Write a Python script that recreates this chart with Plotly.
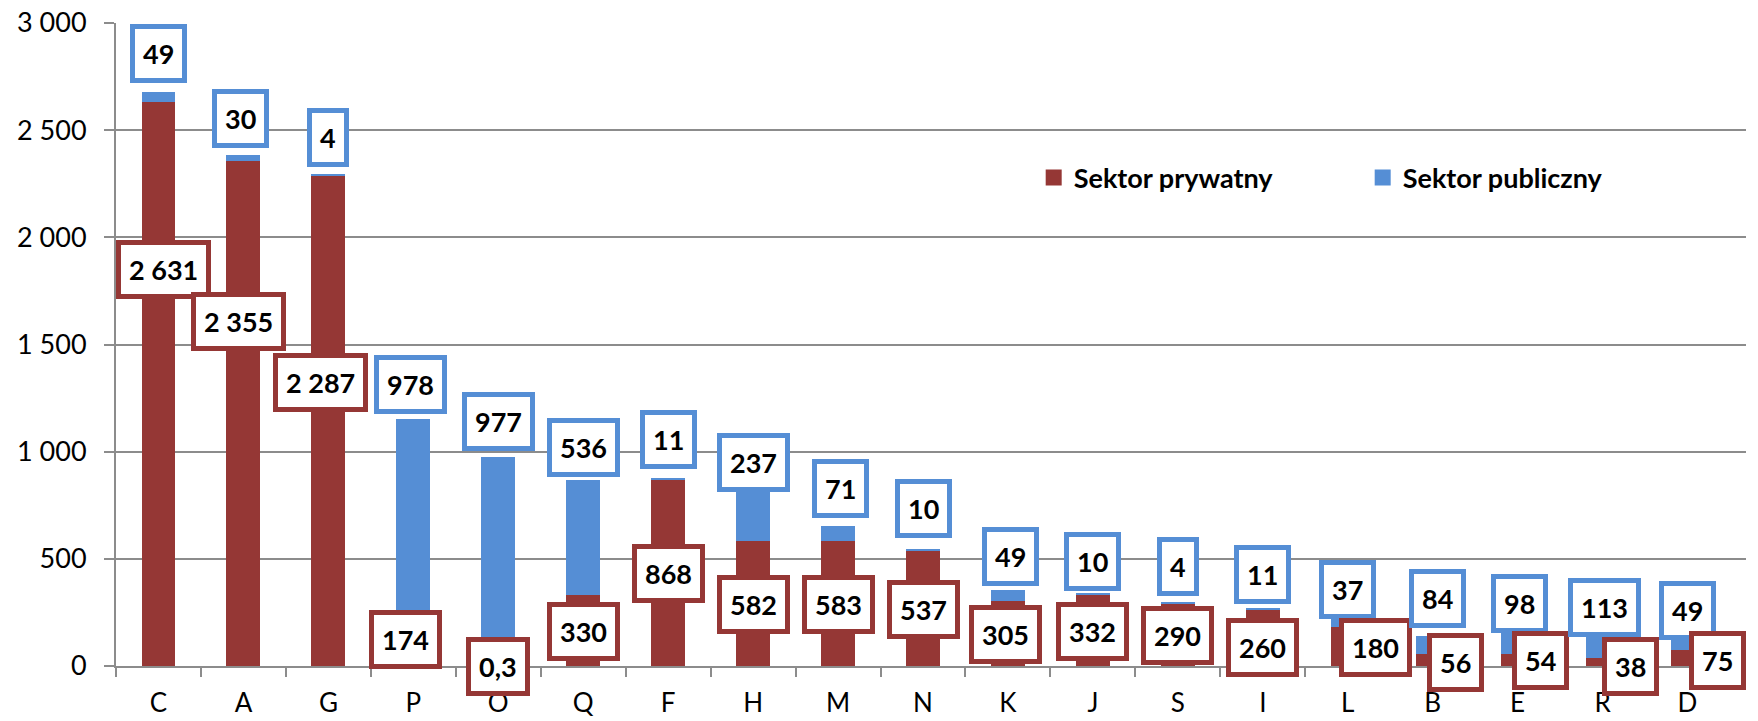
import plotly.graph_objects as go

# ---- data ----
categories = ["C", "A", "G", "P", "O", "Q", "F", "H", "M", "N", "K", "J", "S", "I", "L", "B", "E", "R", "D"]
private_values = [2631, 2355, 2287, 174, 0.3, 330, 868, 582, 583, 537, 305, 332, 290, 260, 180, 56, 54, 38, 75]
public_values = [49, 30, 4, 978, 977, 536, 11, 237, 71, 10, 49, 10, 4, 11, 37, 84, 98, 113, 49]
series_names = ["Sektor prywatny", "Sektor publiczny"]
y_tick_values = [0, 500, 1000, 1500, 2000, 2500, 3000]
y_tick_labels = ["0", "500", "1 000", "1 500", "2 000", "2 500", "3 000"]

# ---- label placement (layout only, in axis units / pixel shifts) ----
public_label_y = [2859, 2555, 2466, 1313, 1139, 1019, 1056, 949, 830, 734, 513, 489, 466, 426, 358, 313, 291, 274, 260]
public_label_dx = [0, -3, 0, -3, 0, 0, 0, 0, 2, 0, 3, 0, 0, 0, 0, 5, 2, 2, 0]
private_label_y = [1848, 1608, 1323, 125, -3, 162, 432, 288, 289, 265, 149, 163, 143, 87, 86, 15, 24, -3, 25]
private_label_dx = [5, -5, -8, -8, 0, 0, 0, 0, 0, 0, -2, 0, 0, 0, 28, 23, 23, 28, 30]

RED = "#953735"
BLUE = "#558ED5"
GRID = "#8C8C8C"
FONT = "Lato"

# page body has an 8px margin; size the figure so the plot lands where the reference's does
FIG_W, FIG_H = 1750, 713
M_L, M_R, M_T, M_B = 108, 12, 15, 55
PX_PER_UNIT = (FIG_H - M_T - M_B) / 3000.0


def fmt(v):
    if abs(v - round(v)) > 1e-9:
        return ("%g" % v).replace(".", ",")
    s = "{:,}".format(int(round(v)))
    return s.replace(",", " ")


fig = go.Figure()
fig.add_trace(go.Bar(x=categories, y=private_values, name=series_names[0],
                     marker=dict(color=RED, line=dict(width=0)), width=0.4, showlegend=False))
fig.add_trace(go.Bar(x=categories, y=public_values, name=series_names[1],
                     marker=dict(color=BLUE, line=dict(width=0)), width=0.4, showlegend=False))

# legend proxies
for name, col in zip(series_names, [RED, BLUE]):
    fig.add_trace(go.Scatter(x=[None], y=[None], mode="markers", name=name,
                             marker=dict(symbol="square", size=16, color=col)))


def label(c, y, dx, txt, col):
    ya = max(y, 0)
    dy = (y - ya) * PX_PER_UNIT
    return dict(
        x=c, y=ya, xref="x", yref="y", xshift=dx, yshift=dy,
        text="<b>%s</b>" % txt, showarrow=False,
        font=dict(family=FONT, size=27, color="black"),
        bgcolor="white", bordercolor=col, borderwidth=5, borderpad=8,
        xanchor="center", yanchor="middle")


annotations = []
for i, c in enumerate(categories):
    annotations.append(label(c, public_label_y[i], public_label_dx[i], fmt(public_values[i]), BLUE))
    annotations.append(label(c, private_label_y[i], private_label_dx[i], fmt(private_values[i]), RED))

fig.update_layout(
    width=FIG_W, height=FIG_H,
    margin=dict(l=M_L, r=M_R, t=M_T, b=M_B, pad=0, autoexpand=False),
    paper_bgcolor="white", plot_bgcolor="white",
    barmode="stack", bargap=0.6,
    font=dict(family=FONT, size=26, color="black"),
    showlegend=True,
    legend=dict(orientation="h", x=0.563, y=0.759, xanchor="left", yanchor="middle",
                font=dict(family=FONT, size=27, color="black", weight="bold"),
                bgcolor="rgba(0,0,0,0)", entrywidth=284, entrywidthmode="pixels",
                itemsizing="trace", traceorder="normal"),
    annotations=annotations,
)
fig.update_xaxes(
    type="category", showgrid=False, showline=True, linecolor=GRID, linewidth=2,
    ticks="outside", tickson="boundaries", ticklen=9, tickcolor=GRID, tickwidth=2,
    ticklabelstandoff=13, tickfont=dict(family=FONT, size=26, color="black"),
    zeroline=False, automargin=False, ticklabeloverflow="allow",
)
fig.update_yaxes(
    range=[0, 3000], tickvals=y_tick_values, ticktext=y_tick_labels,
    showgrid=True, gridcolor=GRID, gridwidth=2,
    showline=True, linecolor=GRID, linewidth=2,
    ticks="outside", ticklen=10, tickcolor=GRID, tickwidth=2,
    ticklabelstandoff=12, tickfont=dict(family=FONT, size=27, color="black"),
    zeroline=False, automargin=False, ticklabeloverflow="allow",
)

fig.write_html("out.html")
